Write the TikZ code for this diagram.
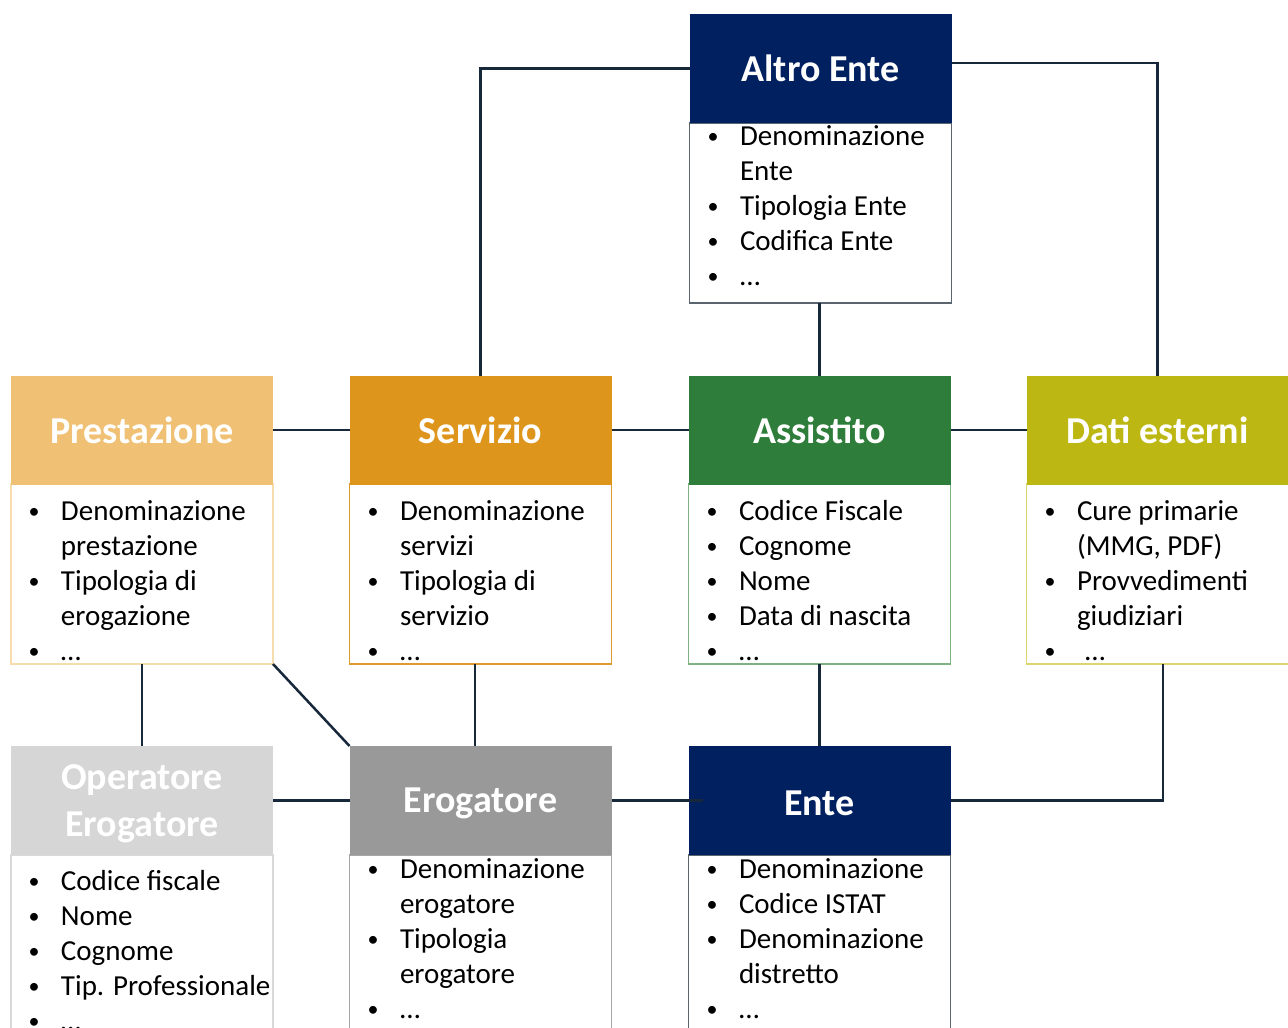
\documentclass[tikz,border=0pt]{standalone}
\usepackage{fontspec}
\setmainfont{Carlito}
\definecolor{navy}{HTML}{002060}
\definecolor{prestc}{HTML}{F0C174}
\definecolor{servc}{HTML}{DE951B}
\definecolor{assc}{HTML}{2E7D3B}
\definecolor{datic}{HTML}{BDB713}
\definecolor{operc}{HTML}{D6D6D6}
\definecolor{erogc}{HTML}{999999}
\definecolor{connc}{HTML}{17283A}
\definecolor{prestb}{HTML}{F7DCAE}
\definecolor{servb}{HTML}{DE9A2E}
\definecolor{assb}{HTML}{7FB283}
\definecolor{datib}{HTML}{DAD56E}
\definecolor{navyb}{HTML}{5A6570}
\definecolor{operb}{HTML}{D9D9D9}
\definecolor{erogb}{HTML}{A6A6A6}
\newcommand\bitem[1]{\makebox[46pt][c]{\raisebox{1.5pt}{\fontsize{22}{22}\selectfont •}}\hspace{4pt}#1}
\newcommand\bcont[1]{\hspace*{50pt}#1}
\tikzset{
  hdr/.style={minimum width=262pt, minimum height=109pt, inner sep=0pt, outer sep=0pt,
    text=white, font=\fontsize{38}{47}\selectfont\bfseries, align=center},
  ttl/.style={inner sep=0pt, outer sep=0pt, text=white,
    font=\fontsize{38}{47}\selectfont\bfseries, align=center},
  bodybox/.style={minimum width=262pt, minimum height=180pt, inner sep=0pt, outer sep=0pt,
    fill=white, line width=1.5pt, anchor=north},
  btext/.style={anchor=base west, inner sep=0pt, outer sep=0pt, align=left,
    font=\fontsize{29}{35}\selectfont},
  conn/.style={draw=connc, line width=2.5pt},
}
\begin{document}
\begin{tikzpicture}[x=1pt,y=-1pt]
\useasboundingbox (0,0) rectangle (1288,1028);
% coordinates for header centres
\coordinate (caltro) at (820.5,68.5);
\coordinate (cprest) at (142,430);
\coordinate (cserv) at (480.5,430);
\coordinate (cass) at (819.5,430);
\coordinate (cdati) at (1157.5,430);
\coordinate (coper) at (142,800.5);
\coordinate (cerog) at (480.5,800.5);
\coordinate (cente) at (819.5,800.5);

% bodies
\node (altrob) [bodybox, draw=navyb] at ([yshift=-54.5pt]caltro) {};
\node (prestbd) [bodybox, draw=prestb] at ([yshift=-54pt]cprest) {};
\node (servbd) [bodybox, draw=servb] at ([yshift=-54pt]cserv) {};
\node (assbd) [bodybox, draw=assb] at ([yshift=-54pt]cass) {};
\node (datibd) [bodybox, draw=datib] at ([yshift=-54pt]cdati) {};
\node (operbd) [bodybox, draw=operb, minimum height=220pt] at ([yshift=-54.5pt]coper) {};
\node (erogbd) [bodybox, draw=erogb, minimum height=220pt] at ([yshift=-54.5pt]cerog) {};
\node (entebd) [bodybox, draw=navyb, minimum height=220pt] at ([yshift=-54.5pt]cente) {};

% headers
\node (altro) [hdr, fill=navy] at (caltro) {Altro Ente};
\node (prest) [hdr, fill=prestc] at (cprest) {Prestazione};
\node (serv) [hdr, fill=servc] at (cserv) {Servizio};
\node (ass) [hdr, fill=assc] at (cass) {Assistito};
\node (dati) [hdr, fill=datic] at (cdati) {Dati esterni};
\node (oper) [hdr, fill=operc] at (coper) {};
\node (erog) [hdr, fill=erogc] at (cerog) {};
\node (ente) [hdr, fill=navy] at (cente) {};
\node (operl) [ttl] at ([yshift=-3pt]coper) {Operatore\\Erogatore};
\node (erogl) [ttl] at ([yshift=-3pt]cerog) {Erogatore};
\node (entel) [ttl] at ([yshift=-3pt]cente) {Ente};

% body texts (anchored at the baseline of the last line)
\node (altrot) [btext] at (690,285) {\bitem{Denominazione}\\\bcont{Ente}\\\bitem{Tipologia Ente}\\\bitem{Codifica Ente}\\\bitem{…}};
\node (prestt) [btext] at (11,660) {\bitem{Denominazione}\\\bcont{prestazione}\\\bitem{Tipologia di}\\\bcont{erogazione}\\\bitem{…}};
\node (servt) [btext] at (350,660) {\bitem{Denominazione}\\\bcont{servizi}\\\bitem{Tipologia di}\\\bcont{servizio}\\\bitem{…}};
\node (asst) [btext] at (689,660) {\bitem{Codice Fiscale}\\\bitem{Cognome}\\\bitem{Nome}\\\bitem{Data di nascita}\\\bitem{…}};
\node (datit) [btext] at (1027,660) {\bitem{Cure primarie}\\\bcont{(MMG, PDF)}\\\bitem{Provvedimenti}\\\bcont{giudiziari}\\\bitem{\hspace{8pt}…}};
\node (opert) [btext] at (11,1030) {\bitem{Codice fiscale}\\\bitem{Nome}\\\bitem{Cognome}\\\bitem{Tip. Professionale}\\\bitem{…}};
\node (erogt) [btext] at (350,1018) {\bitem{Denominazione}\\\bcont{erogatore}\\\bitem{Tipologia}\\\bcont{erogatore}\\\bitem{…}};
\node (entet) [btext] at (689,1018) {\bitem{Denominazione}\\\bitem{Codice ISTAT}\\\bitem{Denominazione}\\\bcont{distretto}\\\bitem{…}};

% connectors
\draw[conn] (altro.west) -| (serv.north);
\draw[conn] ([yshift=5.5pt]altro.east) -| (dati.north);
\draw[conn] (ass.north |- altrob.south) -- (ass.north);
\draw[conn] (prest.east) -- (serv.west);
\draw[conn] (serv.east) -- (ass.west);
\draw[conn] (ass.east) -- (dati.west);
\draw[conn] (prestbd.south) -- (oper.north);
\draw[conn] (prestbd.south east) -- (erog.north west);
\draw[conn] ([xshift=-5.5pt]servbd.south) -- ([xshift=-5.5pt]erog.north);
\draw[conn] (assbd.south) -- (ente.north);
\draw[conn] ([xshift=5.5pt]datibd.south) |- (ente.east);
\draw[conn] (oper.east) -- (erog.west);
\draw[conn] (erog.east) -- ([xshift=14pt]ente.west);
\end{tikzpicture}
\end{document}
